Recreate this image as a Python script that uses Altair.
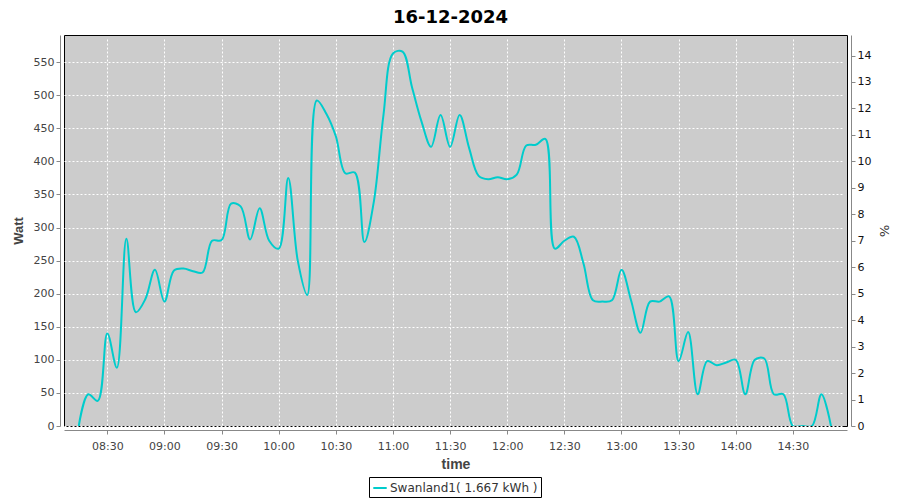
import altair as alt
import pandas as pd

times = [
    "08:15", "08:20", "08:25", "08:30", "08:35", "08:40", "08:45", "08:50", "08:55", "09:00",
    "09:05", "09:10", "09:15", "09:20", "09:25", "09:30", "09:35", "09:40", "09:45", "09:50",
    "09:55", "10:00", "10:05", "10:10", "10:15", "10:20", "10:25", "10:30", "10:35", "10:40",
    "10:45", "10:50", "10:55", "11:00", "11:05", "11:10", "11:15", "11:20", "11:25", "11:30",
    "11:35", "11:40", "11:45", "11:50", "11:55", "12:00", "12:05", "12:10", "12:15", "12:20",
    "12:25", "12:30", "12:35", "12:40", "12:45", "12:50", "12:55", "13:00", "13:05", "13:10",
    "13:15", "13:20", "13:25", "13:30", "13:35", "13:40", "13:45", "13:50", "13:55", "14:00",
    "14:05", "14:10", "14:15", "14:20", "14:25", "14:30", "14:35", "14:40", "14:45", "14:50",
]
watts = [
    0, 48, 38, 140, 88, 283, 172, 192, 236, 188,
    235, 238, 234, 232, 280, 281, 336, 332, 282, 329,
    280, 268, 375, 250, 198, 492, 472, 438, 382, 383,
    278, 340, 470, 563, 566, 512, 460, 422, 470, 422,
    470, 420, 378, 373, 376, 373, 380, 424, 425, 434,
    268, 280, 286, 246, 190, 188, 190, 236, 190, 141,
    188, 188, 196, 98, 142, 48, 98, 92, 96, 100,
    48, 100, 102, 48, 48, 0, 0, 0, 48, 0,
]
series_name = "Swanland1( 1.667 kWh )"
title_text = "16-12-2024"
y_ticks = [0, 50, 100, 150, 200, 250, 300, 350, 400, 450, 500, 550]
pct_ticks = list(range(0, 15))
x_tick_times = ["08:30", "09:00", "09:30", "10:00", "10:30", "11:00", "11:30",
                "12:00", "12:30", "13:00", "13:30", "14:00", "14:30"]

W_MAX = 591
PCT_DIV = 40


def dt(hm, sec=0):
    h, m = hm.split(":")
    return alt.DateTime(year=2024, month=12, date=16, hours=int(h), minutes=int(m), seconds=sec)


df = pd.DataFrame({
    "time": ["2024-12-16T" + t + ":00" for t in times],
    "watt": watts,
    "series": [series_name] * len(times),
})

FONT = "DejaVu Sans"
TFONT = "Liberation Sans"
x_domain = [dt("08:07", 15), dt("14:58", 25)]

x_enc = alt.X(
    "time:T",
    title="time",
    scale=alt.Scale(domain=x_domain),
    axis=alt.Axis(
        values=[dt(t) for t in x_tick_times],
        format="%H:%M",
        grid=True,
        labelPadding=6,
        titleFont=TFONT,
        titleFontWeight="bold",
        titleFontSize=14,
        titleColor="#444444",
        titlePadding=6,
    ),
)

line = alt.Chart(df).mark_line(strokeWidth=2, interpolate="catmull-rom", clip=True).encode(
    x=x_enc,
    y=alt.Y(
        "watt:Q",
        title="Watt",
        scale=alt.Scale(domain=[0, W_MAX], nice=False, zero=True),
        axis=alt.Axis(values=y_ticks, grid=True, titleFont=TFONT, titleFontSize=13,
                      titleColor="#444444", titleFontWeight="bold", titlePadding=8),
    ),
    color=alt.Color(
        "series:N",
        scale=alt.Scale(domain=[series_name], range=["#00cccc"]),
        legend=alt.Legend(
            title=None,
            orient="none",
            legendX=305,
            legendY=442,
            symbolType="stroke",
            symbolStrokeWidth=2,
            symbolSize=180,
            strokeColor="black",
            padding=3,
            labelFont=FONT,
            labelFontSize=12,
            labelColor="#333333",
            labelOffset=2,
        ),
    ),
)

pct = alt.Chart(df).transform_calculate(pct=f"datum.watt / {PCT_DIV}").mark_line(opacity=0).encode(
    x=alt.X("time:T", scale=alt.Scale(domain=x_domain)),
    y=alt.Y(
        "pct:Q",
        title="%",
        scale=alt.Scale(domain=[0, W_MAX / PCT_DIV], nice=False, zero=True),
        axis=alt.Axis(orient="right", values=pct_ticks, grid=False, labelColor="#111111",
                      titleFontSize=13, titleColor="#333333", titleFontWeight="normal",
                      format="d", titlePadding=6),
    ),
)

chart = alt.layer(line, pct).resolve_scale(y="independent").properties(
    width=783,
    height=391,
    autosize=alt.AutoSizeParams(type="none"),
    padding={"left": 56, "top": 27, "right": 45, "bottom": 72},
    title=alt.TitleParams(
        text=title_text,
        font=FONT,
        fontSize=18,
        fontWeight="bold",
        color="black",
        anchor="middle",
        dx=-5,
        offset=8,
    ),
).configure_view(
    fill="#cccccc",
    stroke="black",
    strokeWidth=1,
).configure_axis(
    labelFont=FONT,
    labelFontSize=11,
    labelColor="#444444",
    titleFont=FONT,
    domainColor="#888888",
    tickColor="#888888",
    tickSize=4,
    offset=4,
    gridColor="white",
    gridDash=[2, 2],
    gridWidth=1,
    gridOpacity=1,
    labelPadding=2,
)

chart.save("out.html", embed_options={"renderer": "svg", "actions": False})
